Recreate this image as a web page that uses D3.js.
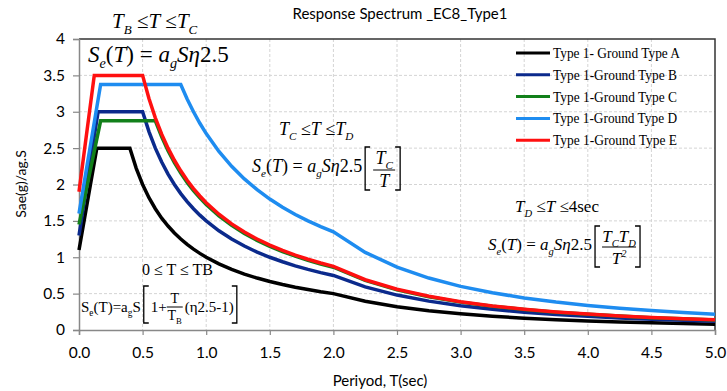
<!DOCTYPE html>
<html>
<head>
<meta charset="utf-8">
<script src="https://cdn.jsdelivr.net/npm/d3@7"></script>
<style>
  html, body { margin: 0; padding: 0; background: #fff; }
  svg { display: block; }
  text { white-space: pre; }
</style>
</head>
<body>
<svg id="chart" width="727" height="391"></svg>
<script>
// Elastic response spectra, Eurocode 8 Type 1, normalised by ag·S  [period (s), Sae/ag]
const groundA = [[0,1.1],[0.14,2.5],[0.4,2.5],[0.45,2.222],[0.5,2.0],[0.55,1.818],[0.6,1.667],[0.65,1.538],[0.7,1.429],[0.75,1.333],[0.8,1.25],[0.85,1.176],[0.9,1.111],[0.95,1.053],[1.0,1.0],[1.1,0.909],[1.2,0.833],[1.3,0.769],[1.4,0.714],[1.5,0.667],[1.6,0.625],[1.7,0.588],[1.8,0.556],[1.9,0.526],[2.0,0.5],[2.25,0.395],[2.5,0.32],[2.75,0.264],[3.0,0.222],[3.25,0.189],[3.5,0.163],[3.75,0.142],[4.0,0.125],[4.25,0.111],[4.5,0.099],[4.75,0.089],[5.0,0.08]];
const groundB = [[0,1.3],[0.15,3.0],[0.5,3.0],[0.55,2.727],[0.6,2.5],[0.65,2.308],[0.7,2.143],[0.75,2.0],[0.8,1.875],[0.85,1.765],[0.9,1.667],[0.95,1.579],[1.0,1.5],[1.1,1.364],[1.2,1.25],[1.3,1.154],[1.4,1.071],[1.5,1.0],[1.6,0.938],[1.7,0.882],[1.8,0.833],[1.9,0.789],[2.0,0.75],[2.25,0.593],[2.5,0.48],[2.75,0.397],[3.0,0.333],[3.25,0.284],[3.5,0.245],[3.75,0.213],[4.0,0.188],[4.25,0.166],[4.5,0.148],[4.75,0.133],[5.0,0.12]];
const groundC = [[0,1.45],[0.17,2.875],[0.6,2.875],[0.65,2.654],[0.7,2.464],[0.75,2.3],[0.8,2.156],[0.85,2.029],[0.9,1.917],[0.95,1.816],[1.0,1.725],[1.1,1.568],[1.2,1.438],[1.3,1.327],[1.4,1.232],[1.5,1.15],[1.6,1.078],[1.7,1.015],[1.8,0.958],[1.9,0.908],[2.0,0.863],[2.25,0.682],[2.5,0.552],[2.75,0.456],[3.0,0.383],[3.25,0.327],[3.5,0.282],[3.75,0.245],[4.0,0.216],[4.25,0.191],[4.5,0.17],[4.75,0.153],[5.0,0.138]];
const groundD = [[0,1.6],[0.17,3.375],[0.8,3.375],[0.85,3.176],[0.9,3.0],[0.95,2.842],[1.0,2.7],[1.1,2.455],[1.2,2.25],[1.3,2.077],[1.4,1.929],[1.5,1.8],[1.6,1.688],[1.7,1.588],[1.8,1.5],[1.9,1.421],[2.0,1.35],[2.25,1.067],[2.5,0.864],[2.75,0.714],[3.0,0.6],[3.25,0.511],[3.5,0.441],[3.75,0.384],[4.0,0.338],[4.25,0.299],[4.5,0.267],[4.75,0.239],[5.0,0.216]];
const groundE = [[0,1.9],[0.12,3.5],[0.5,3.5],[0.55,3.182],[0.6,2.917],[0.65,2.692],[0.7,2.5],[0.75,2.333],[0.8,2.188],[0.85,2.059],[0.9,1.944],[0.95,1.842],[1.0,1.75],[1.1,1.591],[1.2,1.458],[1.3,1.346],[1.4,1.25],[1.5,1.167],[1.6,1.094],[1.7,1.029],[1.8,0.972],[1.9,0.921],[2.0,0.875],[2.25,0.691],[2.5,0.56],[2.75,0.463],[3.0,0.389],[3.25,0.331],[3.5,0.286],[3.75,0.249],[4.0,0.219],[4.25,0.194],[4.5,0.173],[4.75,0.155],[5.0,0.14]];

const seriesNames = ["Type 1- Ground Type A", "Type 1-Ground Type B", "Type 1-Ground Type C", "Type 1-Ground Type D", "Type 1-Ground Type E"];
const seriesData = [groundA, groundB, groundC, groundD, groundE];
const seriesColors = ["#000000", "#0b2a8c", "#12801a", "#1e8cf0", "#ff1010"];

const xTicks = [0, 0.5, 1.0, 1.5, 2.0, 2.5, 3.0, 3.5, 4.0, 4.5, 5.0];
const yTicks = [0, 0.5, 1, 1.5, 2, 2.5, 3, 3.5, 4];

const title = "Response Spectrum _EC8_Type1";
const xTitle = "Periyod, T(sec)";
const yTitle = "Sae(g)/ag.S";

const SANS = "Lato, 'Open Sans', sans-serif";
const SERIF = "'Liberation Serif', 'Times New Roman', serif";

const svg = d3.select("#chart");
const plot = { left: 79, right: 715, top: 39, bottom: 330 };

const x = d3.scaleLinear().domain([0, 5]).range([plot.left, plot.right]);
const y = d3.scaleLinear().domain([0, 4]).range([plot.bottom, plot.top]);

// grid
const grid = svg.append("g").attr("stroke", "#d4d4d4").attr("stroke-width", 1).attr("stroke-dasharray", "3,2");
grid.selectAll("line.v").data(xTicks.slice(1, -1)).join("line")
  .attr("x1", d => x(d)).attr("x2", d => x(d)).attr("y1", plot.top).attr("y2", plot.bottom);
grid.selectAll("line.h").data(yTicks.slice(1, -1)).join("line")
  .attr("x1", plot.left).attr("x2", plot.right).attr("y1", d => y(d)).attr("y2", d => y(d));

// frame (top and right)
svg.append("path")
  .attr("d", `M${plot.left},${plot.top}H${plot.right}V${plot.bottom}`)
  .attr("fill", "none").attr("stroke", "#333").attr("stroke-width", 1.5);

// axes
const xAxis = svg.append("g").attr("transform", `translate(0,${plot.bottom})`)
  .call(d3.axisBottom(x).tickValues(xTicks).tickFormat(d3.format(".1f")).tickSize(5).tickPadding(12));
const yAxis = svg.append("g").attr("transform", `translate(${plot.left},0)`)
  .call(d3.axisLeft(y).tickValues(yTicks).tickFormat(d => String(d)).tickSize(6).tickPadding(8));
[xAxis, yAxis].forEach(a => {
  a.select(".domain").attr("stroke", "#888").attr("stroke-width", 1.5);
  a.selectAll(".tick line").attr("stroke", "#888").attr("stroke-width", 1.2);
  a.selectAll(".tick text").attr("font-family", SANS).attr("font-size", 15.5).attr("fill", "#000");
});

// spectra
const line = d3.line().x(d => x(d[0])).y(d => y(d[1]));
svg.append("g").selectAll("path").data(seriesData).join("path")
  .attr("d", line)
  .attr("fill", "none")
  .attr("stroke", (d, i) => seriesColors[i])
  .attr("stroke-width", 3.5)
  .attr("stroke-linejoin", "miter");

// titles
svg.append("text").attr("x", 400).attr("y", 19).attr("text-anchor", "middle")
  .attr("font-family", SANS).attr("font-size", 15).text(title);
svg.append("text").attr("x", 380).attr("y", 386).attr("text-anchor", "middle")
  .attr("font-family", SANS).attr("font-size", 15).text(xTitle);
svg.append("text").attr("transform", "translate(26,184) rotate(-90)").attr("text-anchor", "middle")
  .attr("font-family", SANS).attr("font-size", 14).text(yTitle);

// legend
const legend = svg.append("g");
seriesNames.forEach((name, i) => {
  const ly = 53 + i * 21.8;
  legend.append("line").attr("x1", 516).attr("x2", 550).attr("y1", ly).attr("y2", ly)
    .attr("stroke", seriesColors[i]).attr("stroke-width", 3);
  legend.append("text").attr("x", 553).attr("y", ly + 5).attr("font-family", SERIF)
    .attr("font-size", 15).attr("textLength", i === 0 ? 127 : 124)
    .attr("lengthAdjust", "spacingAndGlyphs").text(name);
});

// formula typesetting: parts are [text, kind]; kind: i italic, r roman, sub / subr subscript, sup superscript
function rich(g, px, py, size, parts, anchor) {
  const t = g.append("text").attr("x", px).attr("y", py).attr("font-family", SERIF)
    .attr("font-size", size).attr("text-anchor", anchor || "start");
  let shift = 0;
  parts.forEach(([s, kind]) => {
    let target = 0, fs = size;
    if (kind === "sub" || kind === "subr") { target = size * 0.28; fs = size * 0.62; }
    if (kind === "sup") { target = -size * 0.4; fs = size * 0.62; }
    t.append("tspan").text(s)
      .attr("dy", target - shift)
      .attr("font-size", fs)
      .attr("font-style", (kind === "i" || kind === "sub" || kind === "sup") ? "italic" : "normal");
    shift = target;
  });
  return t;
}
function bracket(g, bx, top, bottom, open) {
  const w = open ? 5 : -5;
  g.append("path").attr("d", `M${bx + w},${top}H${bx}V${bottom}H${bx + w}`)
    .attr("fill", "none").attr("stroke", "#000").attr("stroke-width", 1.3);
}
function endX(t) { const b = t.node().getBBox(); return b.x + b.width; }

const ann = svg.append("g");
const seMain = () => [["S", "i"], ["e", "sub"], ["(", "r"], ["T", "i"], [") = ", "r"], ["a", "i"], ["g", "sub"], ["S", "i"], ["η", "i"], ["2.5", "r"]];

// plateau branch
rich(ann, 112, 28, 21, [["T", "i"], ["B", "sub"], [" ≤", "r"], ["T", "i"], [" ≤", "r"], ["T", "i"], ["C", "sub"]]);
rich(ann, 88, 62, 23, seMain());

// velocity branch
rich(ann, 279, 135, 18, [["T", "i"], ["C", "sub"], [" ≤", "r"], ["T", "i"], [" ≤", "r"], ["T", "i"], ["D", "sub"]]);
{
  const t = rich(ann, 252, 172, 18, seMain());
  const e = endX(t) + 3;
  bracket(ann, e, 147, 190, true);
  const c = e + 19;
  rich(ann, c, 164, 18, [["T", "i"], ["C", "sub"]], "middle");
  ann.append("line").attr("x1", c - 11).attr("x2", c + 11).attr("y1", 170).attr("y2", 170)
    .attr("stroke", "#000").attr("stroke-width", 1);
  rich(ann, c, 187, 18, [["T", "i"]], "middle");
  bracket(ann, c + 16, 147, 190, false);
}

// displacement branch
rich(ann, 515, 212, 17, [["T", "i"], ["D", "sub"], [" ≤", "r"], ["T", "i"], [" ≤", "r"], ["4sec", "r"]]);
{
  const t = rich(ann, 488, 250, 17, seMain());
  const e = endX(t) + 3;
  bracket(ann, e, 226, 267, true);
  const c = e + 24;
  rich(ann, c, 242, 17, [["T", "i"], ["C", "sub"], ["T", "i"], ["D", "sub"]], "middle");
  ann.append("line").attr("x1", c - 17).attr("x2", c + 17).attr("y1", 247).attr("y2", 247)
    .attr("stroke", "#000").attr("stroke-width", 1);
  rich(ann, c, 264, 17, [["T", "i"], ["2", "sup"]], "middle");
  bracket(ann, c + 21, 226, 267, false);
}

// ascending branch
rich(ann, 142, 275, 16, [["0 ≤ T ≤ TB", "r"]]);
{
  const t = rich(ann, 81, 312, 15, [["S", "r"], ["e", "subr"], ["(T)=a", "r"], ["g", "subr"], ["S", "r"]]);
  const e = endX(t) + 3;
  bracket(ann, e, 286, 323, true);
  const one = rich(ann, e + 7, 312, 15, [["1+", "r"]]);
  const c = endX(one) + 8;
  rich(ann, c, 303, 14, [["T", "r"]], "middle");
  ann.append("line").attr("x1", c - 8).attr("x2", c + 8).attr("y1", 307).attr("y2", 307)
    .attr("stroke", "#000").attr("stroke-width", 1);
  rich(ann, c, 320, 14, [["T", "r"], ["B", "subr"]], "middle");
  const p = rich(ann, c + 10, 312, 15, [["(η2.5-1)", "r"]]);
  bracket(ann, endX(p) + 3, 286, 323, false);
}
</script>
</body>
</html>
